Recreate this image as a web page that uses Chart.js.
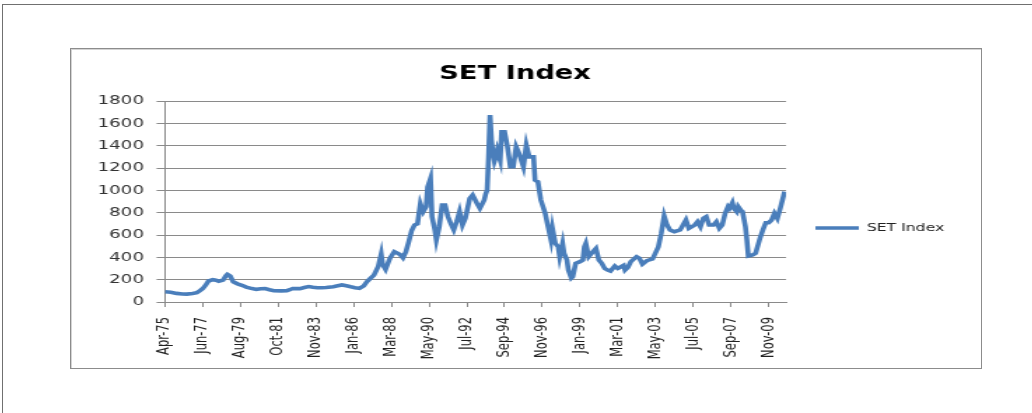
<!DOCTYPE html>
<html>
<head>
<meta charset="utf-8">
<title>SET Index</title>
<script src="https://cdn.jsdelivr.net/npm/chart.js@4.4.0/dist/chart.umd.min.js"></script>
<style>
    html, body { margin: 0; padding: 0; background: #fff; overflow: hidden; }
    #page { position: absolute; left: 2px; top: 4px; width: 1100px; height: 500px;
            border-left: 1px solid #707070; border-top: 1px solid #707070; }
    #box { position: absolute; left: 70px; top: 48px; width: 912px; height: 321px; box-sizing: border-box;
           border: 1px solid #8c8c8c; box-shadow: inset 1px 1px 0 #d4d4d4; }
    /* the source picture is stretched sideways, so the canvas is too */
    #myChart { position: absolute; left: 1px; top: 1px; transform: scaleX(1.4); transform-origin: 0 0; }
</style>
</head>
<body>
<div id="page"></div>
<div id="box"><canvas id="myChart" width="648" height="318"></canvas></div>
<script>
"use strict";
// months counted from Apr-75 (0) and the index value
const months = [0, 4, 8, 12, 15, 19, 22, 24, 26, 28, 30, 33, 35, 37, 40, 42, 43, 45, 47, 50,
    53, 56, 60, 63, 66, 69, 72, 75, 80, 84, 86, 88, 93, 96, 99, 102, 105, 108, 111, 116,
    119, 122, 125, 128, 131, 134, 137, 139, 141, 144, 147, 149, 150, 152, 155, 158, 162, 164, 166, 168,
    170, 172, 174, 176, 178, 180, 181, 183, 184, 186, 187, 189, 191, 193, 195, 197, 199, 201, 203, 205,
    207, 210, 212, 215, 217, 220, 221, 222, 223, 224, 225, 226, 227, 228, 229, 231, 232, 234, 236, 238,
    240, 242, 244, 247, 249, 251, 254, 255, 257, 259, 262, 264, 266, 267, 269, 271, 272, 274, 275, 277,
    278, 280, 281, 283, 286, 288, 289, 290, 292, 294, 296, 297, 299, 301, 303, 305, 307, 310, 312, 313,
    316, 317, 319, 321, 325, 327, 329, 332, 336, 340, 342, 344, 346, 348, 351, 355, 357, 359, 361, 365,
    367, 369, 371, 373, 375, 378, 380, 382, 384, 386, 388, 389, 391, 392, 394, 395, 397, 398, 400, 401,
    402, 405, 407, 410, 412, 414, 416, 418, 420, 422, 424, 427];
const values = [92, 88, 77, 72, 71, 76, 84, 101, 120, 150, 188, 200, 195, 186, 196, 235, 248, 232, 180, 163,
    150, 133, 120, 113, 118, 121, 110, 101, 100, 101, 110, 121, 120, 130, 138, 132, 127, 128, 130, 137,
    145, 153, 145, 136, 128, 122, 145, 180, 205, 240, 320, 430, 335, 292, 391, 451, 425, 395, 450, 540,
    640, 690, 700, 880, 809, 854, 1030, 1107, 764, 645, 555, 674, 868, 868, 764, 700, 645, 719, 809, 689,
    749, 928, 958, 883, 839, 913, 967, 1000, 1300, 1674, 1450, 1330, 1260, 1300, 1360, 1271, 1525, 1525, 1390, 1211,
    1211, 1390, 1331, 1211, 1405, 1300, 1300, 1092, 1077, 913, 794, 674, 555, 660, 525, 495, 406, 525, 436, 376,
    286, 215, 227, 346, 361, 376, 495, 525, 406, 436, 466, 480, 376, 346, 301, 286, 277, 322, 301, 307,
    328, 286, 310, 361, 406, 391, 340, 370, 385, 495, 615, 770, 689, 645, 630, 645, 689, 734, 660, 689,
    719, 674, 749, 764, 689, 689, 719, 660, 689, 794, 854, 839, 889, 839, 809, 854, 818, 809, 674, 555,
    412, 421, 436, 570, 645, 710, 710, 734, 794, 749, 839, 988];
const tickMonths = [0, 26, 52, 78, 104, 130, 156, 182, 208, 234, 260, 286, 312, 338, 364, 390, 416];
const tickLabels = ['Apr-75', 'Jun-77', 'Aug-79', 'Oct-81', 'Nov-83', 'Jan-86', 'Mar-88', 'May-90', 'Jul-92',
    'Sep-94', 'Nov-96', 'Jan-99', 'Mar-01', 'May-03', 'Jul-05', 'Sep-07', 'Nov-09'];

const lineColor = '#4a7ebb';
const gridColor = '#8a8a8a';

window.addEventListener('load', function () {
    const ctx = document.getElementById('myChart');
    const config = {
        type: 'line',
        data: {
            datasets: [{
                label: 'SET Index',
                data: months.map((m, i) => ({ x: m, y: values[i] })),
                borderColor: lineColor,
                backgroundColor: lineColor,
                borderWidth: 3.6,
                pointRadius: 0,
                tension: 0
            }]
        },
        options: {
            responsive: false,
            animation: false,
            devicePixelRatio: 1,
            layout: { padding: { left: 0, right: 15, top: 0, bottom: -38 } },
            plugins: {
                title: {
                    display: true,
                    text: 'SET Index',
                    color: '#000',
                    font: { family: 'DejaVu Sans', size: 19.5, weight: 'bold' },
                    padding: { top: 12, bottom: 15.6 }
                },
                legend: {
                    position: 'right',
                    labels: {
                        color: '#222',
                        font: { family: 'DejaVu Sans', size: 11.2 },
                        boxWidth: 31,
                        boxHeight: 0,
                        padding: 21
                    }
                },
                tooltip: { enabled: false }
            },
            scales: {
                x: {
                    type: 'linear',
                    min: 0,
                    max: 428,
                    afterBuildTicks: scale => { scale.ticks = tickMonths.map(v => ({ value: v })); },
                    afterFit: scale => { scale.height = 104; },
                    grid: { drawOnChartArea: false, color: gridColor, tickLength: 5 },
                    border: { display: true, color: gridColor },
                    ticks: {
                        autoSkip: false,
                        minRotation: 90,
                        maxRotation: 90,
                        padding: 10,
                        color: '#222',
                        font: { family: 'DejaVu Sans', size: 11.5 },
                        callback: (value, index) => tickLabels[index]
                    }
                },
                y: {
                    min: 0,
                    max: 1800,
                    afterFit: scale => { scale.width = 66.4; },
                    grid: { color: gridColor, tickLength: 6 },
                    border: { display: true, color: gridColor },
                    ticks: {
                        stepSize: 200,
                        padding: 9,
                        color: '#333',
                        font: { family: 'DejaVu Sans', size: 13 },
                        callback: value => String(value)
                    }
                }
            }
        }
    };
    new Chart(ctx, config);
});
</script>
</body>
</html>
